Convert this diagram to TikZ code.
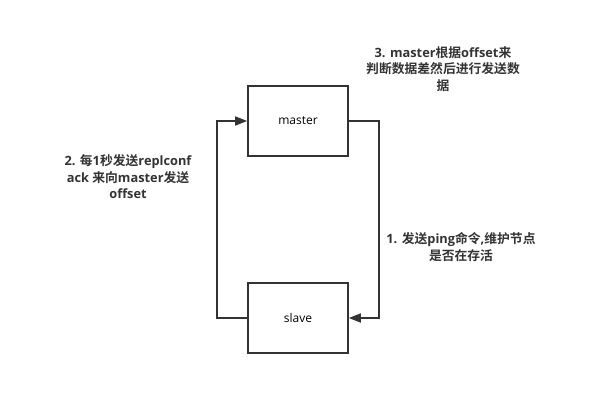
\documentclass[tikz,border=0pt]{standalone}
\usepackage{fontspec}
\setmainfont{Open Sans}
\newfontfamily\cjk{Noto Sans CJK SC}[BoldFont={Noto Sans CJK SC Bold}]
\usetikzlibrary{arrows.meta}
\usetikzlibrary{positioning}
\definecolor{linegray}{HTML}{333333}

\tikzset{
  box/.style={draw=linegray, line width=1.6pt, minimum width=100pt, minimum height=70pt, inner sep=0pt, font=\fontsize{12}{14}\selectfont},
  link/.style={draw=linegray, line width=1.6pt, -{Triangle[length=12pt,width=9pt]}},
  note/.style={align=center, font=\bfseries\fontsize{12.8}{16.5}\selectfont, text=linegray, inner sep=0pt}
}

\begin{document}
\begin{tikzpicture}[x=1pt,y=-1pt]
\useasboundingbox (0,0) rectangle (602,414);
% the two boxes
\node[box] (master) at (298,121) {master};
\node[box] (slave) at (298,318) {slave};
% slave -> master
\draw[link] (slave.west) -- ++(-30,0) |- (master.west);
% master -> slave
\draw[link] (master.east) -- ++(30,0) |- (slave.east);
% the notes
\node[note] (n3) at (443,69) {3. master{\cjk 根据}offset{\cjk 来}\\{\cjk 判断数据差然后进行发送数}\\{\cjk 据}};
\node[note] (n2) at (128,177) {2. {\cjk 每}1{\cjk 秒发送}replconf\\ack {\cjk 来向}master{\cjk 发送}\\offset};
\node[note] (n1) at (461,247) {1. {\cjk 发送}ping{\cjk 命令},{\cjk 维护节点}\\{\cjk 是否在存活}};
\end{tikzpicture}
\end{document}
